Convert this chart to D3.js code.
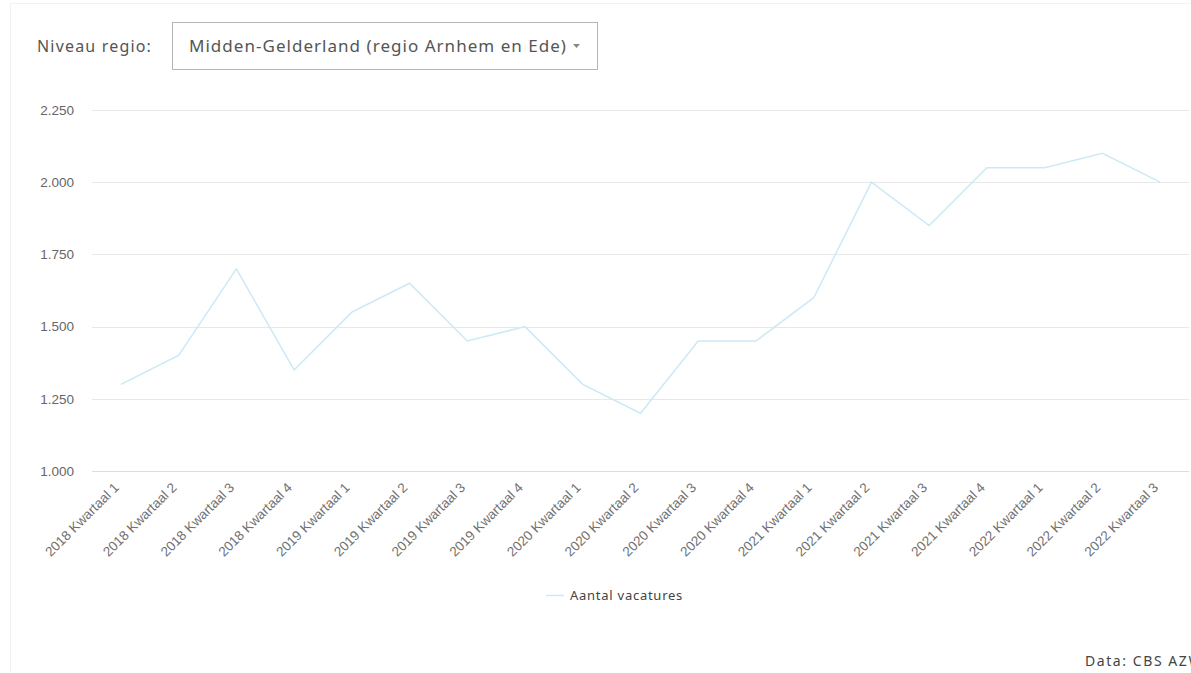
<!DOCTYPE html>
<html>
<head>
<meta charset="utf-8">
<script src="https://cdn.jsdelivr.net/npm/d3@7"></script>
<style>
  html, body { margin: 0; padding: 0; background: #fff; overflow: hidden; }
  svg { display: block; }
</style>
</head>
<body>
<svg id="chart" width="1191" height="673"></svg>
<script>
const categories = [
  "2018 Kwartaal 1","2018 Kwartaal 2","2018 Kwartaal 3","2018 Kwartaal 4",
  "2019 Kwartaal 1","2019 Kwartaal 2","2019 Kwartaal 3","2019 Kwartaal 4",
  "2020 Kwartaal 1","2020 Kwartaal 2","2020 Kwartaal 3","2020 Kwartaal 4",
  "2021 Kwartaal 1","2021 Kwartaal 2","2021 Kwartaal 3","2021 Kwartaal 4",
  "2022 Kwartaal 1","2022 Kwartaal 2","2022 Kwartaal 3"
];
const vacatures = [1300,1400,1700,1350,1550,1650,1450,1500,1300,1200,1450,1450,1600,2000,1850,2050,2050,2100,2000];
const yTicks = [1000,1250,1500,1750,2000,2250];
const seriesName = "Aantal vacatures";
const regionLabel = "Niveau regio:";
const regionValue = "Midden-Gelderland (regio Arnhem en Ede)";
const sourceText = "Data: CBS AZW";

const svg = d3.select("#chart");
const uiFont = "'Noto Sans', 'Open Sans', sans-serif";
const axisFont = "'Liberation Sans', Arial, sans-serif";

// stretch text to a target width via letter-spacing
function fitWidth(sel, target) {
  const n = sel.text().length;
  const w = sel.node().getComputedTextLength();
  sel.attr("letter-spacing", ((target - w) / n).toFixed(2));
}

// container border
svg.append("rect").attr("x", 10.5).attr("y", 3.5).attr("width", 1200).attr("height", 700)
  .attr("fill", "none").attr("stroke", "#f2f2f2");

// region selector
const lab = svg.append("text").attr("x", 37).attr("y", 52).text(regionLabel)
  .attr("font-family", uiFont).attr("font-size", 16).attr("fill", "#555");
fitWidth(lab, 115);
svg.append("rect").attr("x", 172.5).attr("y", 22.5).attr("width", 425).attr("height", 47)
  .attr("fill", "#fff").attr("stroke", "#b5b5b5");
const val = svg.append("text").attr("x", 189).attr("y", 52).text(regionValue)
  .attr("font-family", uiFont).attr("font-size", 17).attr("fill", "#555");
fitWidth(val, 378);
svg.append("path").attr("d", "M573,44 L580,44 L576.5,48 Z").attr("fill", "#888");

const x0 = 92, x1 = 1189;
const y = d3.scaleLinear().domain([1000, 2250]).range([471, 110]);
const x = d3.scalePoint().domain(categories).range([x0, x1]).padding(0.5);

const nl = d3.formatLocale({decimal: ",", thousands: ".", grouping: [3], currency: ["€", ""]});
const fmt = nl.format(",.0f");

// gridlines
svg.append("g").selectAll("line").data(yTicks).join("line")
  .attr("x1", x0).attr("x2", x1)
  .attr("y1", d => Math.round(y(d)) + 0.5).attr("y2", d => Math.round(y(d)) + 0.5)
  .attr("stroke", d => d === 1000 ? "#d8dde6" : "#e8e8e8").attr("stroke-width", 1);

// y axis labels
const yAxis = d3.axisLeft(y).tickValues(yTicks).tickFormat(fmt).tickSize(0).tickPadding(0);
const yg = svg.append("g").attr("transform", "translate(74,0)").call(yAxis);
yg.select(".domain").remove();
yg.selectAll("text").attr("font-family", axisFont).attr("font-size", 13.5).attr("fill", "#666").attr("dy", "0.32em");

// x axis labels
const xAxis = d3.axisBottom(x).tickSize(0).tickPadding(0);
const xg = svg.append("g").attr("transform", "translate(0,480)").call(xAxis);
xg.select(".domain").remove();
xg.selectAll(".tick text")
  .attr("font-family", axisFont).attr("font-size", 13.5).attr("fill", "#707070")
  .attr("text-anchor", "end").attr("dy", "0.35em")
  .attr("transform", "translate(-5,5) rotate(-45)");

// line
const line = d3.line().x((d, i) => x(categories[i])).y(d => y(d));
svg.append("path").datum(vacatures).attr("d", line)
  .attr("fill", "none").attr("stroke", "#cde9f6").attr("stroke-width", 1.5);

// legend
svg.append("line").attr("x1", 546).attr("x2", 564).attr("y1", 595.5).attr("y2", 595.5)
  .attr("stroke", "#cde9f6").attr("stroke-width", 1.5);
const leg = svg.append("text").attr("x", 570).attr("y", 600).text(seriesName)
  .attr("font-family", uiFont).attr("font-size", 13).attr("fill", "#444");
fitWidth(leg, 113);

// source
const src = svg.append("text").attr("x", 1085).attr("y", 666).text(sourceText)
  .attr("font-family", uiFont).attr("font-size", 14).attr("fill", "#444");
fitWidth(src, 118);
</script>
</body>
</html>
